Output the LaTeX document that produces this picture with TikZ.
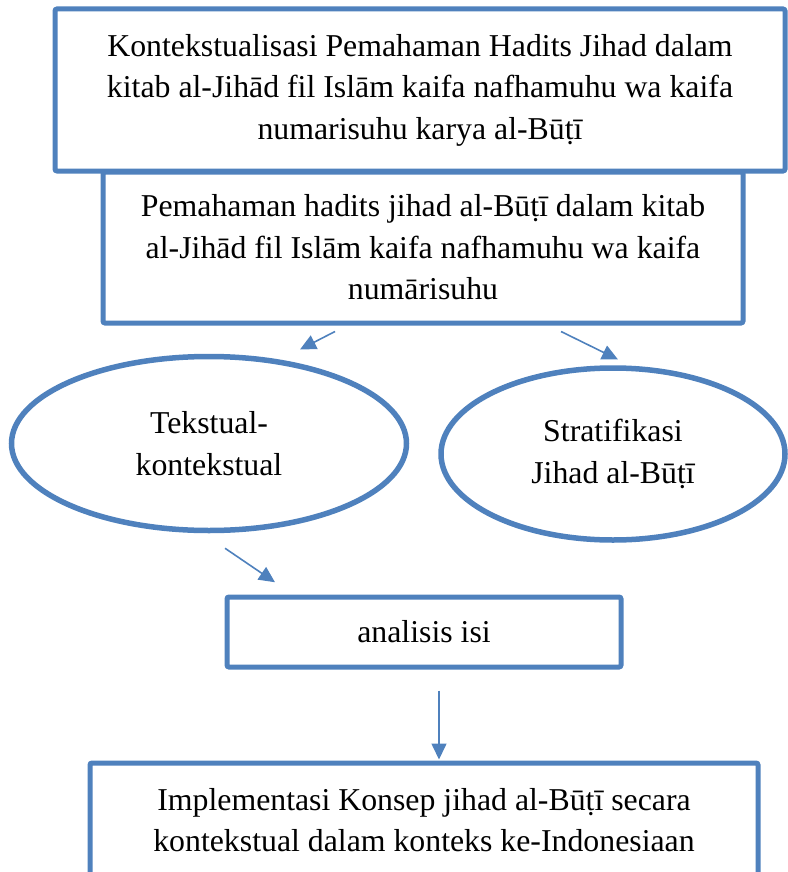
\documentclass[tikz,border=0pt]{standalone}
\usepackage{fontspec}
\setmainfont{Liberation Serif}
\usetikzlibrary{arrows.meta}
\usetikzlibrary{shapes.geometric}
\definecolor{boxblue}{HTML}{4F81BD}
\tikzset{
    box/.style = {draw=boxblue,line width=2.5pt,fill=white,rounded corners=1pt,align=center,inner sep=0pt,font=\fontsize{15.9}{20.75}\selectfont},
    oval/.style = {ellipse,draw=boxblue,line width=2.75pt,fill=white,align=center,inner sep=0pt,font=\fontsize{15.9}{20.75}\selectfont},
    flow/.style = {draw=boxblue,line width=0.8pt,-{Triangle[length=8pt,width=7.5pt]}}
}

\begin{document}
\begin{tikzpicture}[x=0.5pt,y=-0.5pt]
        \useasboundingbox (0,0) rectangle (787,872);
        % Boxes
        \node[box,minimum width=365pt,minimum height=81pt] (judul) at (420,90)
            {Kontekstualisasi Pemahaman Hadits Jihad dalam\\kitab al-Jihād fil Islām kaifa nafhamuhu wa kaifa\\numarisuhu karya al-Būṭī};
        \node[box,minimum width=320pt,minimum height=75.5pt] (paham) at (423,247.5)
            {Pemahaman hadits jihad al-Būṭī dalam kitab\\al-Jihād fil Islām kaifa nafhamuhu wa kaifa\\numārisuhu};
        % Ovals
        \node[oval,minimum width=197.5pt,minimum height=87pt] (tekstual) at (209,443.5) {Tekstual-\\kontekstual};
        \node[oval,minimum width=172pt,minimum height=86pt] (strata) at (613,454) {Stratifikasi\\Jihad al-Būṭī};
        \node[box,minimum width=197pt,minimum height=35pt] (analisis) at (424,632) {analisis isi};
        \node[box,minimum width=334pt,minimum height=57pt] (implementasi) at (424,820)
            {Implementasi Konsep jihad al-Būṭī secara\\kontekstual dalam konteks ke-Indonesiaan};
        % Arrow ends
        \path (paham.south)
            +(-88,6) coordinate (kiri)
            +(-123,24) coordinate (kiriend)
            +(138,6) coordinate (kanan)
            +(195,34) coordinate (kananend)
        ;
        \path (tekstual.south)
            +(16,15) coordinate (teks)
            +(66,49) coordinate (teksend)
        ;
        \path (analisis.south)
            +(15,21) coordinate (isi)
            +(15,90) coordinate (isiend)
        ;
        % Arrows
        \foreach \src/\dest in {kiri/kiriend,kanan/kananend,teks/teksend,isi/isiend}
            \draw[flow] (\src) to (\dest);
    \end{tikzpicture}
\end{document}
